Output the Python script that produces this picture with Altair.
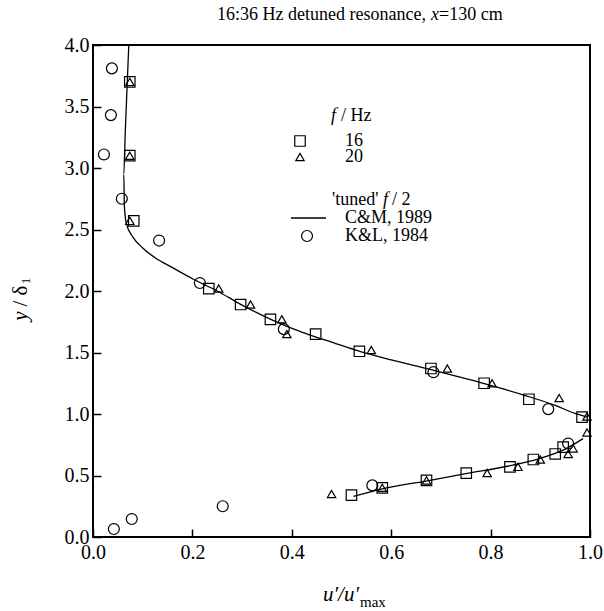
import altair as alt
import pandas as pd

# ---- data ----
sq_x = [0.074, 0.074, 0.082, 0.233, 0.297, 0.357, 0.448, 0.536, 0.680, 0.787, 0.877, 0.984,
        0.946, 0.930, 0.886, 0.839, 0.751, 0.671, 0.582, 0.520]
sq_y = [3.70, 3.10, 2.57, 2.02, 1.89, 1.77, 1.65, 1.51, 1.37, 1.25, 1.12, 0.975,
        0.73, 0.675, 0.63, 0.57, 0.52, 0.46, 0.40, 0.34]

tr_x = [0.074, 0.074, 0.074, 0.253, 0.317, 0.380, 0.390, 0.560, 0.713, 0.803, 0.938, 0.994,
        0.994, 0.966, 0.956, 0.900, 0.855, 0.793, 0.671, 0.582, 0.480]
tr_y = [3.70, 3.10, 2.57, 2.02, 1.89, 1.77, 1.65, 1.52, 1.37, 1.25, 1.13, 0.98,
        0.85, 0.72, 0.675, 0.63, 0.57, 0.52, 0.46, 0.40, 0.35]

ci_x = [0.038, 0.036, 0.022, 0.058, 0.133, 0.215, 0.384, 0.685, 0.916, 0.956, 0.562, 0.261, 0.078, 0.042]
ci_y = [3.81, 3.43, 3.11, 2.75, 2.41, 2.065, 1.69, 1.34, 1.04, 0.76, 0.42, 0.25, 0.146, 0.065]

up_x = [0.072, 0.069, 0.065, 0.062, 0.063, 0.067, 0.080, 0.100, 0.125, 0.160, 0.200, 0.250,
        0.300, 0.360, 0.420, 0.480, 0.540, 0.600, 0.680, 0.780, 0.870, 0.930, 0.970, 0.994]
up_y = [4.00, 3.70, 3.30, 2.95, 2.70, 2.55, 2.44, 2.35, 2.27, 2.19, 2.10, 2.00,
        1.885, 1.765, 1.665, 1.585, 1.505, 1.44, 1.36, 1.255, 1.15, 1.07, 1.005, 0.975]
lo_x = [0.524, 0.580, 0.670, 0.750, 0.840, 0.900, 0.950, 0.986]
lo_y = [0.33, 0.39, 0.455, 0.515, 0.58, 0.64, 0.715, 0.80]

x_ticks = [0.0, 0.2, 0.4, 0.6, 0.8, 1.0]
y_ticks = [0.0, 0.5, 1.0, 1.5, 2.0, 2.5, 3.0, 3.5, 4.0]

FONT = "Liberation Serif"

xs = alt.Scale(domain=[0, 1], nice=False, zero=False)
ys = alt.Scale(domain=[0, 4], nice=False, zero=False)
xax = alt.Axis(values=x_ticks, format=".1f", title=None, labelPadding=5, labelFlush=False)
yax = alt.Axis(values=y_ticks, format=".1f", title=None, labelPadding=4, labelFlush=False)

sq_df = pd.DataFrame({"x": sq_x, "y": sq_y})
tr_df = pd.DataFrame({"x": tr_x, "y": tr_y})
ci_df = pd.DataFrame({"x": ci_x, "y": ci_y})
line_df = pd.concat([
    pd.DataFrame({"x": up_x, "y": up_y, "branch": "upper", "i": range(len(up_x))}),
    pd.DataFrame({"x": lo_x, "y": lo_y, "branch": "lower", "i": range(len(lo_x))}),
])

lines = alt.Chart(line_df).mark_line(color="black", strokeWidth=1.3, interpolate="monotone").encode(
    x=alt.X("x:Q", scale=xs, axis=xax),
    y=alt.Y("y:Q", scale=ys, axis=yax),
    detail="branch:N",
    order="i:Q",
)

def pts(df, shape, size):
    return alt.Chart(df).mark_point(shape=shape, size=size, filled=False, color="black",
                                    strokeWidth=1.2, opacity=1).encode(
        x=alt.X("x:Q", scale=xs), y=alt.Y("y:Q", scale=ys))

squares = pts(sq_df, "square", 110)
triangles = pts(tr_df, "triangle-up", 70)
circles = pts(ci_df, "circle", 120)

one = pd.DataFrame({"a": [0]})

def txt(s, px, py, size=18, italic=False, align="left", angle=0, baseline="middle"):
    kw = dict(font=FONT, fontSize=size, color="black", align=align, baseline=baseline)
    if italic:
        kw["fontStyle"] = "italic"
    if angle:
        kw["angle"] = angle
    return alt.Chart(one).mark_text(**kw).encode(
        x=alt.value(px), y=alt.value(py), text=alt.value(s))

def sym(shape, px, py, size):
    return alt.Chart(one).mark_point(shape=shape, size=size, filled=False, color="black",
                                     strokeWidth=1.2, opacity=1).encode(
        x=alt.value(px), y=alt.value(py))

legend_line = alt.Chart(one).mark_rule(color="black", strokeWidth=1.3).encode(
    x=alt.value(198), x2=alt.value(233), y=alt.value(173))

annots = [
    # title
    txt("16:36 Hz detuned resonance,", 333, -30, 18, align="right"),
    txt("x", 338, -30, 18, italic=True),
    txt("=130 cm", 346, -30, 18),
    # legend
    txt("f", 238, 71, 18, italic=True),
    txt("/ Hz", 248, 71, 18),
    sym("square", 207, 96, 110),
    txt("16", 252, 96, 18),
    sym("triangle-up", 207, 112, 70),
    txt("20", 252, 112, 18),
    txt("'tuned'", 239, 155, 18),
    txt("f", 290, 155, 18, italic=True),
    txt("/ 2", 299, 155, 18),
    legend_line,
    txt("C&M, 1989", 252, 173, 18),
    sym("circle", 214, 191, 120),
    txt("K&L,  1984", 252, 191, 18),
    # x title
    txt("u\u2032/u\u2032", 266, 550, 21, italic=True, align="right"),
    txt("max", 267, 557, 15),
    # y title
    txt("y", -72, 271, 21, italic=True, align="center", angle=270),
    txt("/ \u03b4", -72, 251, 21, align="center", angle=270),
    txt("1", -67, 236, 13, align="center", angle=270),
]

chart = alt.layer(lines, squares, triangles, circles, *annots).properties(
    width=497, height=492,
    autosize=alt.AutoSizeParams(type="none"),
    padding={"left": 93, "top": 45, "right": 14, "bottom": 74},
    background="white",
).configure_view(
    stroke="black", strokeWidth=2
).configure_axis(
    domain=False, grid=False, ticks=True, tickColor="black", tickWidth=1.5,
    tickSize=8, offset=-8, labelFont=FONT, labelFontSize=20, labelColor="black",
)

chart.save("out.html", embed_options={"renderer": "svg", "actions": False})
